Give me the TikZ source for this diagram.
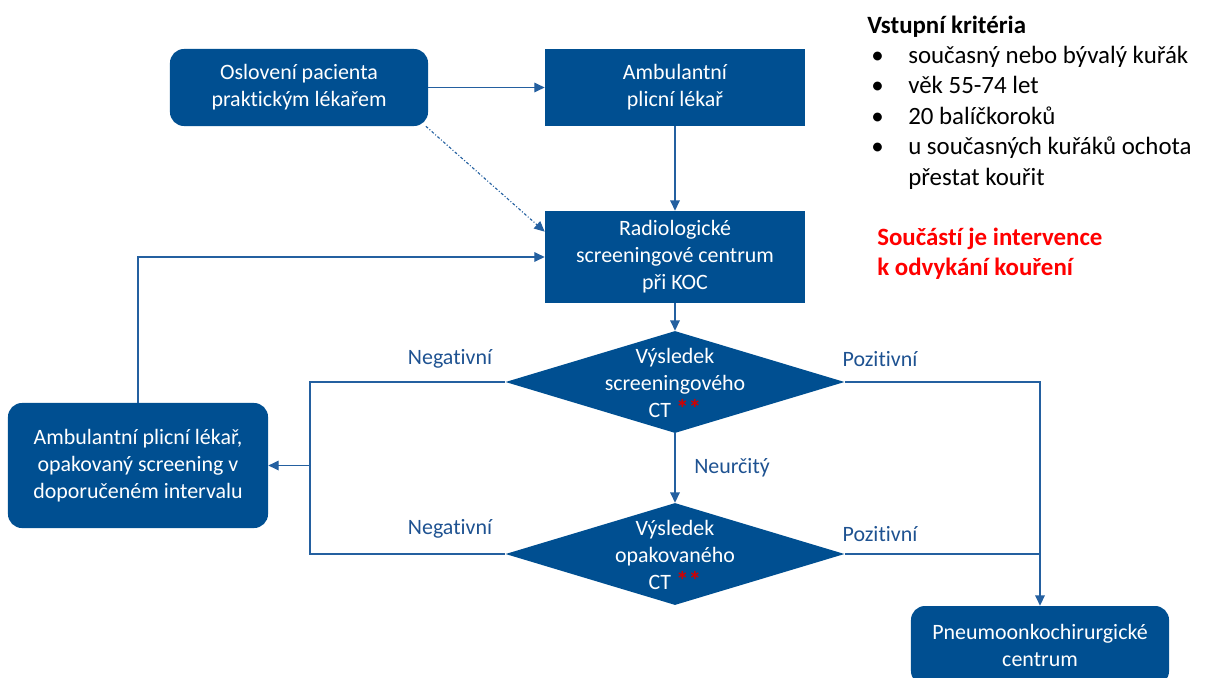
\documentclass[tikz,border=0pt]{standalone}
\usepackage{fontspec}
\setmainfont{Carlito}[Ligatures=CommonOff]
\usetikzlibrary{shapes.geometric}
\usetikzlibrary{arrows.meta}

\definecolor{boxblue}{RGB}{0,79,145}
\definecolor{lineblue}{RGB}{36,96,160}
\definecolor{labelblue}{RGB}{30,82,145}
\definecolor{starred}{RGB}{210,0,0}
\definecolor{notered}{RGB}{255,0,0}

\newcommand{\stars}{\textcolor{starred}{\fontsize{18}{19}\selectfont\bfseries **}}

\begin{document}
\begin{tikzpicture}[x=0.025cm,y=-0.025cm,
  every node/.style={font=\fontsize{15.6}{19.2}\selectfont},
  process/.style={fill=boxblue,text=white,align=center,inner sep=0pt,
    minimum width=6.5cm,minimum height=1.925cm},
  roundbox/.style={process,rounded corners=0.35cm},
  decision/.style={diamond,fill=boxblue,inner sep=0pt,
    minimum width=8.475cm,minimum height=2.55cm},
  decisiontext/.style={text=white,align=center,inner sep=0pt},
  flow/.style={draw=lineblue,line width=1pt,-{Triangle[length=0.26cm,width=0.24cm]}},
  link/.style={draw=lineblue,line width=1pt},
  branch/.style={text=labelblue},
  crit/.style={anchor=base west,inner sep=0pt,font=\fontsize{17.7}{21}\selectfont}]

  \useasboundingbox (0,0) rectangle (1207,677);
  \clip (0,0) rectangle (1207,677);

  % boxes
  \node[roundbox,minimum width=6.45cm] (gp) at (299,87.5) {Oslovení pacienta\\praktickým lékařem};
  \node[process] (pulmo) at (675,87.5) {Ambulantní\\plicní lékař};
  \node[process,minimum height=2.3cm] (radio) at (675,257) {Radiologické\\screeningové centrum\\při KOC};

  \node[decision] (ct) at (675,382) {};
  \node[decisiontext] (cttext) at (675,383) {Výsledek\\screeningového\\CT \stars};

  \node[decision] (rect) at (675,554) {};
  \node[decisiontext] (recttext) at (675,555) {Výsledek\\opakovaného\\CT \stars};

  \node[roundbox,minimum height=3.125cm] (repeat) at (138,465.5) {Ambulantní plicní lékař,\\opakovaný screening v\\doporučeném intervalu};
  \node[roundbox,minimum width=6.45cm,minimum height=1.975cm] (surgery) at (1040,645.5) {Pneumoonkochirurgické\\centrum};

  \coordinate (negjoin) at (310,465.5);

  % connectors
  \draw[flow] (gp) -- (pulmo);
  \draw[flow] (pulmo) -- (radio);
  \draw[flow,line width=0.8pt,dash pattern=on 2pt off 1.4pt on 0.7pt off 1.4pt] (gp.-17) -- (radio.169.5);
  \draw[flow] (radio) -- (ct);
  \draw[flow] (ct) -- (rect);

  \draw[link] (ct.west) -| (negjoin) |- (rect.west);
  \draw[flow] (negjoin) -- (repeat.east);
  \draw[flow] (repeat.north) |- (radio.west);

  \draw[flow] (ct.east) -| (surgery.north);
  \draw[link] (rect.east) -- (rect.east -| surgery.north);

  % branch labels
  \node[branch] (neg1) at (450,359) {Negativní};
  \node[branch] (neg2) at (450,529) {Negativní};
  \node[branch] (pos1) at (880,359) {Pozitivní};
  \node[branch] (pos2) at (880,534) {Pozitivní};
  \node[branch] (unclear) at (732,468) {Neurčitý};

  % criteria
  \node[crit] (crithead) at (867,33) {\textbf{Vstupní kritéria}};
  \foreach \y [count=\i] in {63.4,93.8,124.2,154.6}
    \node[crit] (bul\i) at (871,\y) {•};
  \node[crit] (crit1) at (908,63.4) {současný nebo bývalý kuřák};
  \node[crit] (crit2) at (908,93.8) {věk 55-74 let};
  \node[crit] (crit3) at (908,124.2) {20 balíčkoroků};
  \node[crit] (crit4) at (908,154.6) {u současných kuřáků ochota};
  \node[crit] (crit5) at (908,185) {přestat kouřit};

  \node[crit,text=notered] (note1) at (877,245) {\textbf{Součástí je intervence}};
  \node[crit,text=notered] (note2) at (877,275) {\textbf{k odvykání kouření}};

\end{tikzpicture}
\end{document}
